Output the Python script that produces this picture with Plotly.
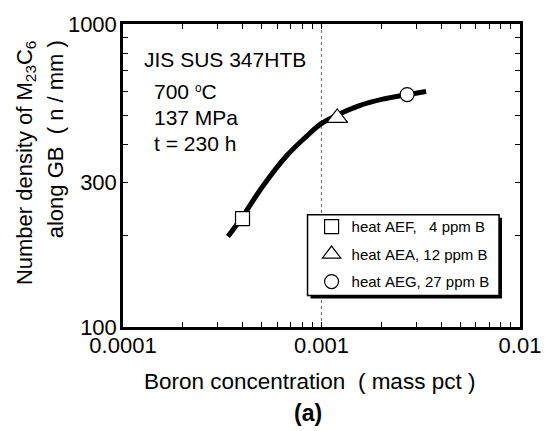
import plotly.graph_objects as go

# ---- data ----
curve_boron = [3.38e-4, 3.94e-4, 5.07e-4, 6.64e-4, 8.37e-4, 9.97e-4,
               1.186e-3, 1.553e-3, 2.034e-3, 2.668e-3, 3.365e-3]
curve_density = [199, 228, 292, 366, 425, 469, 499, 538, 565, 584, 599]

heat_names = ["heat\u00a0AEF,\u00a0\u00a0\u00a04 ppm B",
              "heat\u00a0AEA, 12 ppm B",
              "heat\u00a0AEG, 27 ppm B"]
heat_boron = [0.0004, 0.0012, 0.0027]
heat_density = [228, 490, 585]
heat_symbols = ["square", "triangle-up", "circle"]
heat_sizes = [14, 18, 14]

ref_boron = [0.001, 0.001]
ref_density = [100, 1000]

x_tickvals = [1e-4, 2e-4, 3e-4, 4e-4, 5e-4, 6e-4, 7e-4, 8e-4, 9e-4,
              1e-3, 2e-3, 3e-3, 4e-3, 5e-3, 6e-3, 7e-3, 8e-3, 9e-3, 1e-2]
x_ticktext = ["0.0001"] + [""] * 8 + ["0.001"] + [""] * 8 + ["0.01"]
y_tickvals = [100, 200, 300, 400, 500, 600, 700, 800, 900, 1000]
y_ticktext = ["100", "", "300", "", "", "", "", "", "", "1000"]

FONT = "Arial, Liberation Sans, sans-serif"

fig = go.Figure()

fig.add_trace(go.Scatter(x=ref_boron, y=ref_density, mode="lines",
                         line=dict(color="#777777", width=1.2, dash="dot"),
                         showlegend=False, hoverinfo="skip"))

fig.add_trace(go.Scatter(x=curve_boron, y=curve_density, mode="lines",
                         line=dict(color="black", width=5, shape="spline"),
                         showlegend=False, hoverinfo="skip"))

for i in range(len(heat_names)):
    fig.add_trace(go.Scatter(
        x=[heat_boron[i]], y=[heat_density[i]], mode="markers",
        name=heat_names[i], legendgroup="g%d" % i,
        marker=dict(symbol=heat_symbols[i], size=heat_sizes[i], color="white",
                    line=dict(color="black", width=1.2))))

# legend frame + shadow
bx0, bx1, by0, by1 = 0.4648, 0.9472, 0.1039, 0.3701
fig.add_shape(type="rect", xref="paper", yref="paper",
              x0=bx0 + 0.0075, x1=bx1 + 0.0075, y0=by0 - 0.0097, y1=by1 - 0.0097,
              fillcolor="black", line=dict(width=0), layer="above")
fig.add_shape(type="rect", xref="paper", yref="paper",
              x0=bx0, x1=bx1, y0=by0, y1=by1,
              fillcolor="white", line=dict(color="black", width=1.5), layer="above")

annos = [
    dict(text="JIS SUS 347HTB", x=0.047, y=0.882, xanchor="left", size=21),
    dict(text="700 <span style='font-size:17px'><sup>o</sup></span>C", x=0.0729, y=0.778,
         xanchor="left", size=21),
    dict(text="137 MPa", x=0.0729, y=0.692, xanchor="left", size=21),
    dict(text="t = 230 h", x=0.0729, y=0.606, xanchor="left", size=21),
    dict(text="Boron concentration\u00a0\u00a0(\u00a0mass pct\u00a0)", x=0.4686, y=-0.1786,
         xanchor="center", size=22.5),
    dict(text="<b>(a)</b>", x=0.4648, y=-0.285, xanchor="center", size=23),
]
for a in annos:
    fig.add_annotation(text=a["text"], x=a["x"], y=a["y"], xref="paper", yref="paper",
                       xanchor=a["xanchor"], yanchor="middle", showarrow=False,
                       font=dict(family=FONT, size=a["size"], color="black"))

fig.add_annotation(text="Number density of M<sub>23</sub>C<sub>6</sub>",
                   x=-0.246, y=0.542, xref="paper", yref="paper", textangle=-90,
                   xanchor="center", yanchor="middle", showarrow=False,
                   font=dict(family=FONT, size=22, color="black"))
fig.add_annotation(text="along GB\u00a0\u00a0(\u00a0n / mm\u00a0)",
                   x=-0.171, y=0.620, xref="paper", yref="paper", textangle=-90,
                   xanchor="center", yanchor="middle", showarrow=False,
                   font=dict(family=FONT, size=22, color="black"))

axis_common = dict(showline=True, linecolor="black", linewidth=2.5, mirror="ticks",
                   ticks="inside", ticklen=5, tickwidth=1, tickcolor="black",
                   showgrid=False, zeroline=False,
                   tickfont=dict(family=FONT, size=22, color="black"))

fig.update_xaxes(type="log", range=[-4, -2], tickmode="array",
                 tickvals=x_tickvals, ticktext=x_ticktext, ticklabelstandoff=-3,
                 **axis_common)
fig.update_yaxes(type="log", range=[2, 3], tickmode="array",
                 tickvals=y_tickvals, ticktext=y_ticktext, ticklabelstandoff=-1,
                 **axis_common)

fig.update_layout(
    width=553, height=431,
    margin=dict(l=123, r=32, t=19, b=104),
    paper_bgcolor="white", plot_bgcolor="white",
    font=dict(family=FONT, color="black"),
    legend=dict(x=0.475, y=0.385, xanchor="left", yanchor="top",
                bgcolor="rgba(0,0,0,0)", borderwidth=0,
                font=dict(family=FONT, size=15, color="black"),
                tracegroupgap=5),
    showlegend=True,
)

fig.write_html("out.html")
